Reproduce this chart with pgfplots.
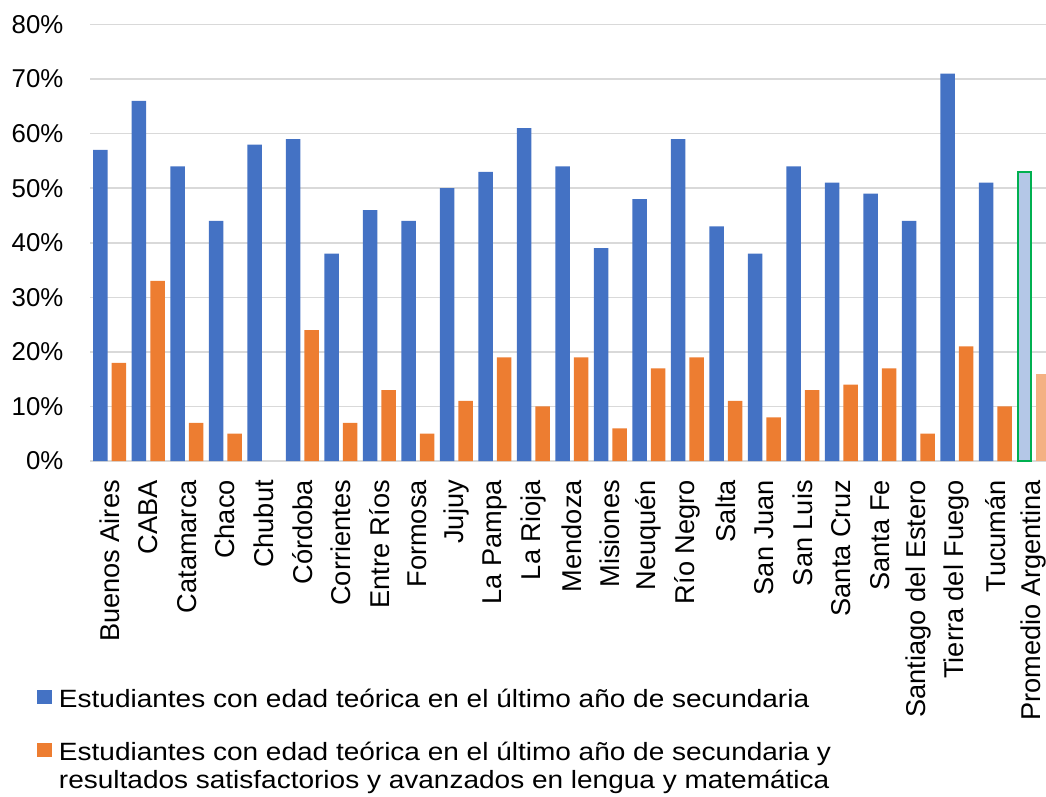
\documentclass[border=0pt]{standalone}
\usepackage{fontspec}
\setmainfont{Liberation Sans}
\newfontfamily\legfont{Liberation Sans}[FakeStretch=1.12]
\usepackage{pgfplots}
\pgfplotsset{compat=1.18}
\definecolor{cblue}{HTML}{4472C4}
\definecolor{corange}{HTML}{ED7D31}
\definecolor{lblue}{HTML}{B4C7E7}
\definecolor{lorange}{HTML}{F4B183}
\definecolor{cgreen}{HTML}{00B050}
\definecolor{cgrid}{HTML}{D9D9D9}
\pgfplotsset{sqlegend/.style={legend image code/.code={\fill[##1] (0pt,-5pt) rectangle (14.5pt,9.5pt);}}}
\begin{document}
\begin{tikzpicture}
\begin{axis}[
  at={(0pt,0pt)}, anchor=south west,
  scale only axis, width=962.5pt, height=436.5pt,
  xmin=-0.5, xmax=24.5, ymin=0, ymax=80,
  xtick={0,...,24},
  xticklabels={Buenos Aires, CABA, Catamarca, Chaco, Chubut, Córdoba, Corrientes, Entre Ríos, Formosa, Jujuy, La Pampa, La Rioja, Mendoza, Misiones, Neuquén, Río Negro, Salta, San Juan, San Luis, Santa Cruz, Santa Fe, Santiago del Estero, Tierra del Fuego, Tucumán, Promedio Argentina},
  ytick={0,10,...,80},
  yticklabel={\pgfmathprintnumber[assume math mode=true]{\tick}\%},
  xticklabel style={rotate=90, anchor=east, inner sep=0pt, font=\fontsize{27.2}{30}\selectfont},
  xticklabel shift=19pt,
  yticklabel style={anchor=east, inner sep=0pt, font=\fontsize{25.8}{30}\selectfont},
  yticklabel shift=27pt,
  major tick length=0pt,
  tick style={draw=none},
  ymajorgrids,
  major grid style={cgrid, line width=1.5pt},
  axis x line*=bottom, axis y line*=left,
  y axis line style={draw=none},
  x axis line style={cgrid, line width=1.5pt},
  legend style={at={(-0.0553,-0.518)}, anchor=north west, draw=none, fill=none,
    font=\legfont\fontsize{25}{28}\selectfont,
    cells={anchor=base west}, row sep=29pt, column sep=5pt, inner sep=0pt},
  legend cell align=left,
]
\addplot[ybar, bar width=14.5pt, bar shift=-9.25pt, fill=cblue, draw=none, sqlegend] coordinates {
(0,57) (1,66) (2,54) (3,44) (4,58) (5,59) (6,38) (7,46) (8,44) (9,50) (10,53) (11,61) (12,54) (13,39) (14,48) (15,59) (16,43) (17,38) (18,54) (19,51) (20,49) (21,44) (22,71) (23,51)};
\addlegendentry{Estudiantes con edad teórica en el último año de secundaria}
\addplot[ybar, bar width=14.5pt, bar shift=9.25pt, fill=corange, draw=none, sqlegend] coordinates {
(0,18) (1,33) (2,7) (3,5) (5,24) (6,7) (7,13) (8,5) (9,11) (10,19) (11,10) (12,19) (13,6) (14,17) (15,19) (16,11) (17,8) (18,13) (19,14) (20,17) (21,5) (22,21) (23,10)};
\addlegendentry{\vtop{\hbox{Estudiantes con edad teórica en el último año de secundaria y}\hbox{resultados satisfactorios y avanzados en lengua y matemática}}}
\addplot[ybar, bar width=13pt, bar shift=-9.25pt, fill=lblue, draw=cgreen, line width=1.5pt, forget plot] coordinates {(24,53)};
\addplot[ybar, bar width=14.5pt, bar shift=9.25pt, fill=lorange, draw=none, forget plot] coordinates {(24,16)};
\end{axis}
\pgfresetboundingbox
\path[use as bounding box] (-90.5pt,-335pt) rectangle (955.5pt,461pt);
\end{tikzpicture}
\end{document}
